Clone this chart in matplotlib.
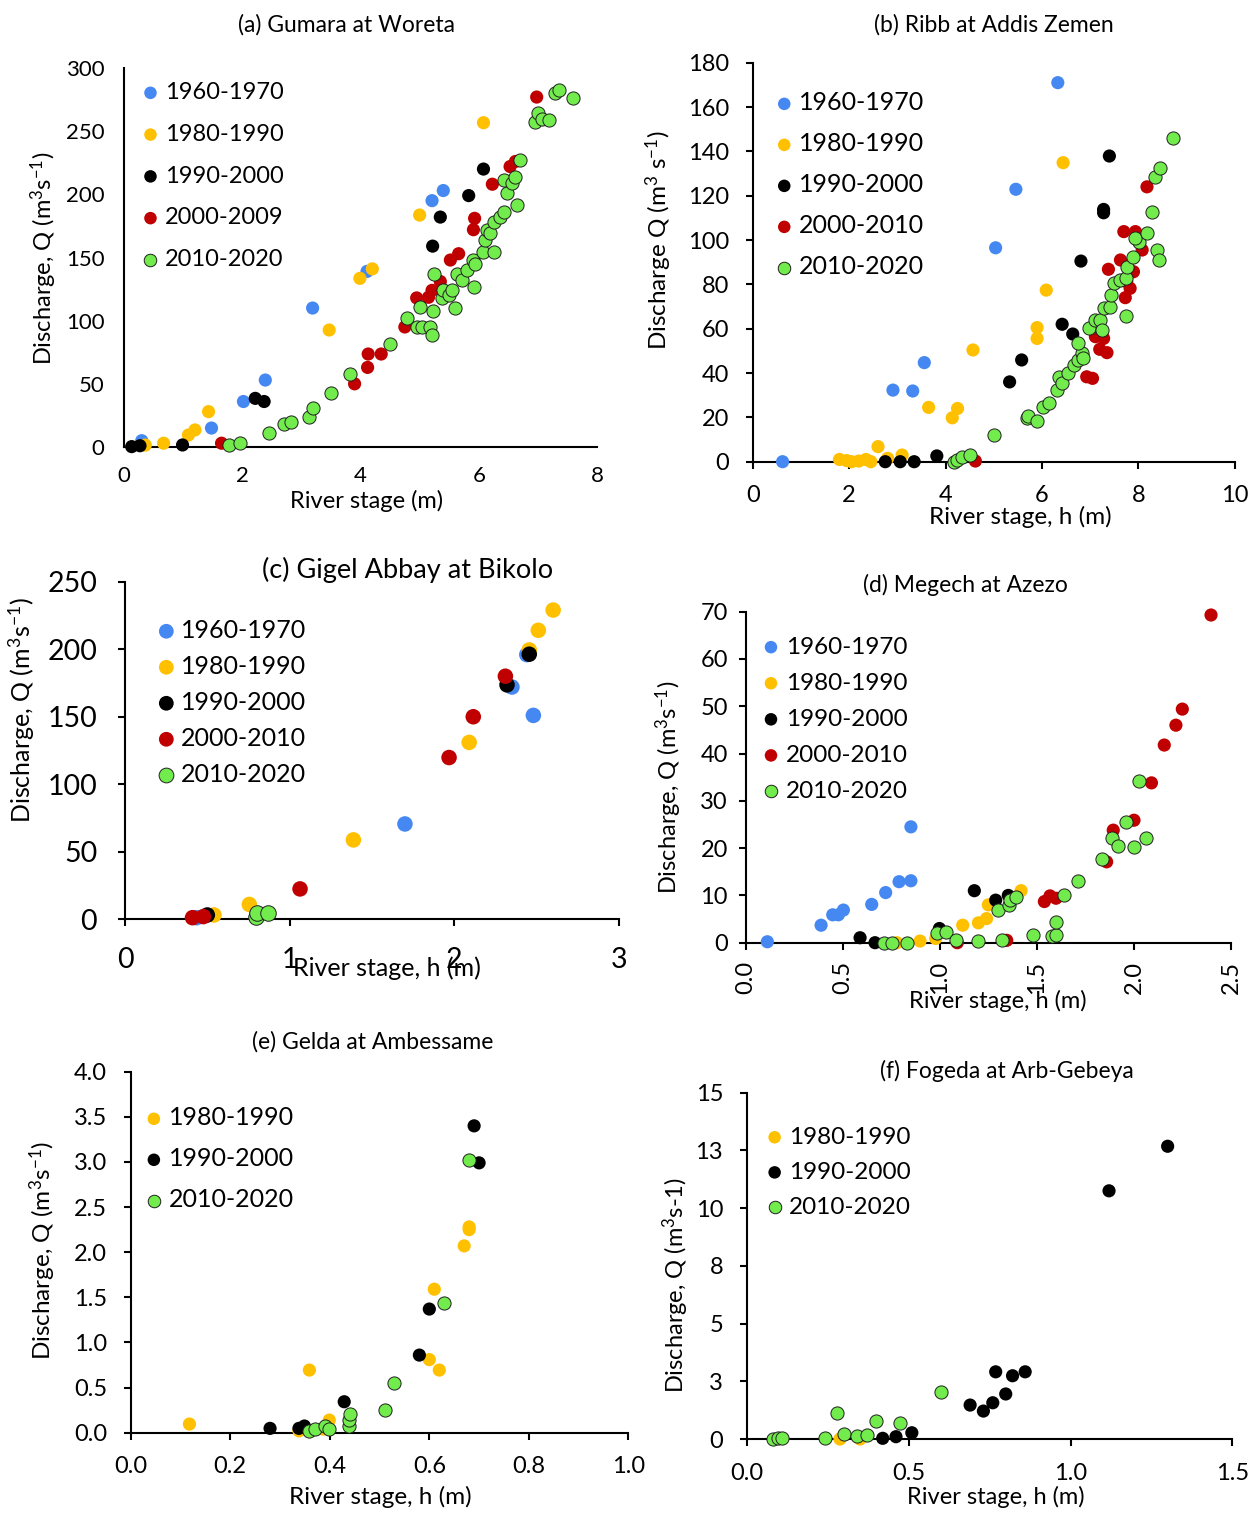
import matplotlib
matplotlib.use("Agg")
import matplotlib.pyplot as plt
from matplotlib.ticker import FixedLocator, FixedFormatter

plt.rcParams['font.family'] = ['Lato', 'DejaVu Sans']
plt.rcParams['mathtext.default'] = 'regular'

W, H = 1254, 1514

C_BLUE = '#4688F1'
C_YEL = '#FFC000'
C_BLK = '#000000'
C_RED = '#C00000'
C_GRN = '#72EB4C'

# ---------------- (a) Gumara at Woreta ----------------
a_blue_x = [0.30, 1.48, 2.02, 2.39, 3.19, 4.11, 5.21, 5.40]
a_blue_y = [5, 15, 36, 53, 110, 139, 195, 203]
a_yel_x = [0.36, 0.67, 1.09, 1.20, 1.43, 3.47, 3.99, 4.20, 5.00, 6.08]
a_yel_y = [1.5, 3, 9.5, 13.5, 28, 92.6, 133.5, 141, 183.6, 256.7]
a_blk_x = [0.13, 0.27, 0.99, 2.22, 2.37, 5.22, 5.35, 5.83, 6.08]
a_blk_y = [0.3, 1, 1.6, 38.5, 36, 159, 182, 199, 220]
a_red_x = [1.65, 3.90, 4.12, 4.13, 4.35, 4.75, 4.95, 5.15, 5.21, 5.35, 5.52,
           5.66, 5.91, 5.93, 6.23, 6.53, 6.62, 6.98]
a_red_y = [3, 50, 63, 73.6, 73.6, 95, 118, 118.5, 124, 131, 148,
           153, 172, 181, 208, 222, 226, 277]
a_grn_x = [1.78, 1.96, 2.46, 2.71, 2.82, 3.13, 3.20, 3.50, 3.82, 4.50, 4.78,
           4.95, 5.01, 5.04, 5.18, 5.21, 5.22, 5.25, 5.38, 5.39, 5.49, 5.54,
           5.60, 5.63, 5.71, 5.80, 5.91, 5.92, 5.94, 6.08, 6.11, 6.14, 6.19,
           6.25, 6.25, 6.36, 6.42, 6.47, 6.42, 6.56, 6.62, 6.64, 6.70, 6.95,
           7.01, 7.07, 7.18, 7.29, 7.35, 7.60]
a_grn_y = [1.6, 3, 11, 18, 20, 23.5, 31, 43, 58, 81.5, 102,
           95, 111, 95, 95, 88.6, 108, 137, 118, 124, 120, 124,
           110, 137, 132, 140, 148, 127, 145, 154, 164, 172, 169,
           178, 154, 182, 186, 201, 211, 209, 214, 191.5, 227, 257.5,
           264, 260, 259, 280, 282.6, 276]

# ---------------- (b) Ribb at Addis Zemen ----------------
b_blue_x = [0.62, 2.91, 3.32, 3.56, 5.04, 5.46, 6.33]
b_blue_y = [0, 32.3, 31.9, 44.7, 96.5, 122.9, 171]
b_yel_x = [1.80, 1.95, 2.05, 2.20, 2.35, 2.45, 2.60, 2.80, 3.10,
           3.65, 4.14, 4.25, 4.57, 5.90, 5.90, 6.09, 6.44]
b_yel_y = [1, 0.5, 0, 0.3, 1, 0, 6.8, 1.5, 3,
           24.5, 19.8, 24, 50.4, 60.5, 55.6, 77.4, 134.9]
b_blk_x = [2.75, 3.06, 3.35, 3.82, 5.33, 5.58, 6.42, 6.64, 6.81, 7.28, 7.28, 7.40]
b_blk_y = [0, 0, 0, 2.6, 36, 45.9, 62, 57.6, 90.5, 113.8, 112.3, 137.9]
b_red_x = [4.62, 6.93, 7.05, 7.11, 7.28, 7.20, 7.35, 7.38, 7.63, 7.76, 7.83,
           7.73, 7.90, 7.70, 7.94, 8.08, 8.18]
b_red_y = [0.3, 38.3, 37.6, 56.4, 55.6, 50.7, 49.2, 86.8, 91, 81.2, 78.2,
           74, 85.7, 103.8, 103.8, 95.5, 124]
b_grn_x = [4.17, 4.24, 4.34, 4.51, 5.01, 5.69, 5.72, 5.90, 6.03, 6.14, 6.31,
           6.35, 6.41, 6.55, 6.66, 6.74, 6.83, 6.86, 6.74, 6.97, 7.11, 7.21,
           7.25, 7.28, 7.42, 7.43, 7.49, 7.63, 7.75, 7.76, 7.74, 7.89, 8.01,
           7.94, 8.18, 8.28, 8.39, 8.42, 8.35, 8.46, 8.73]
b_grn_y = [0, 0.8, 2.3, 3, 12, 19.5, 20.6, 18.5, 24.8, 26.3, 32.3,
           38.3, 35.3, 39.8, 43.6, 45.9, 48.9, 46.6, 53.4, 60.2, 63.9, 63.9,
           59.4, 69.2, 69.9, 75.2, 80.8, 82, 82.7, 88, 65.7, 92.5, 99.2,
           100.8, 103.3, 112.8, 95.5, 91, 128.6, 132.3, 146.2]

# ---------------- (c) Gigel Abbay at Bikolo ----------------
c_blue_x = [0.435, 1.70, 2.35, 2.44, 2.48]
c_blue_y = [1.2, 70.6, 172, 196, 151]
c_yel_x = [0.54, 0.755, 1.387, 2.09, 2.455, 2.51, 2.60]
c_yel_y = [3.2, 11, 58.8, 131, 199.5, 214, 229]
c_blk_x = [0.50, 2.32, 2.455]
c_blk_y = [3.2, 173.6, 196.3]
c_red_x = [0.41, 0.476, 1.063, 1.968, 2.115, 2.31]
c_red_y = [1.2, 2, 22.5, 119.8, 150, 180]
c_grn_x = [0.794, 0.80, 0.866]
c_grn_y = [2, 5, 5]

# ---------------- (d) Megech at Azezo ----------------
d_blue_x = [0.11, 0.387, 0.447, 0.476, 0.502, 0.648, 0.72, 0.789, 0.85, 0.85]
d_blue_y = [0.2, 3.7, 5.9, 5.9, 6.9, 8.1, 10.6, 12.9, 13.1, 24.5]
d_yel_x = [0.777, 0.897, 0.978, 1.117, 1.198, 1.24, 1.249, 1.418]
d_yel_y = [0, 0.35, 0.9, 3.7, 4.2, 5.1, 8, 11]
d_blk_x = [0.588, 0.665, 0.997, 1.177, 1.287, 1.352]
d_blk_y = [1.05, 0, 3, 11, 9, 10]
d_red_x = [1.089, 1.344, 1.538, 1.567, 1.598, 1.859, 1.893, 2.0, 2.09,
           2.156, 2.216, 2.249, 2.397]
d_red_y = [0, 0.5, 8.7, 9.9, 9.4, 17.1, 23.8, 25.9, 33.8, 41.8, 46, 49.4, 69.3]
d_grn_x = [0.713, 0.751, 0.828, 0.986, 1.03, 1.082, 1.198, 1.318, 1.297,
           1.356, 1.361, 1.392, 1.478, 1.576, 1.598, 1.598, 1.639, 1.71,
           1.837, 1.888, 1.919, 1.957, 2.0, 2.027, 2.06]
d_grn_y = [0, 0, 0, 2, 2.2, 0.6, 0.4, 0.6, 6.9,
           8, 9, 9.6, 1.6, 1.4, 1.6, 4.3, 10.1, 13,
           17.8, 22.2, 20.5, 25.6, 20.3, 34.1, 22.1]

# ---------------- (e) Gelda at Ambessame ----------------
e_yel_x = [0.118, 0.359, 0.338, 0.399, 0.387, 0.60, 0.62, 0.61, 0.67, 0.68, 0.68]
e_yel_y = [0.096, 0.694, 0.02, 0.14, 0.04, 0.81, 0.694, 1.59, 2.07, 2.25, 2.28]
e_blk_x = [0.28, 0.338, 0.349, 0.429, 0.58, 0.60, 0.69, 0.70]
e_blk_y = [0.048, 0.048, 0.074, 0.343, 0.86, 1.37, 3.40, 2.99]
e_grn_x = [0.358, 0.37, 0.39, 0.399, 0.439, 0.439, 0.44, 0.51, 0.53, 0.63, 0.68]
e_grn_y = [0.02, 0.044, 0.074, 0.037, 0.074, 0.14, 0.21, 0.25, 0.554, 1.44, 3.02]

# ---------------- (f) Fogeda at Arb-Gebeya ----------------
f_yel_x = [0.288, 0.35]
f_yel_y = [0, 0]
f_blk_x = [0.42, 0.461, 0.51, 0.69, 0.731, 0.76, 0.80, 0.769, 0.821, 0.86, 1.119, 1.30]
f_blk_y = [0.03, 0.1, 0.27, 1.47, 1.21, 1.57, 1.95, 2.91, 2.74, 2.91, 10.75, 12.68]
f_grn_x = [0.082, 0.098, 0.108, 0.242, 0.28, 0.302, 0.34, 0.371, 0.40, 0.472, 0.60]
f_grn_y = [0, 0.06, 0.06, 0.03, 1.11, 0.22, 0.13, 0.17, 0.78, 0.71, 2.02]


def add_ax(fig, left, top, right, bottom):
    # axes placed by pixel box of the reference
    return fig.add_axes([left / W, 1 - bottom / H, (right - left) / W, (bottom - top) / H])


def style(ax, fs_tick, ticklen=5, pad=10):
    for s in ['top', 'right']:
        ax.spines[s].set_visible(False)
    for s in ['left', 'bottom']:
        ax.spines[s].set_linewidth(1.5)
    ax.tick_params(length=ticklen, width=1.5, direction='out', labelsize=fs_tick, pad=pad)


def pts(ax, series, s):
    for x, y, c, lab in series:
        if c == C_GRN:
            ax.scatter(x, y, s=s, c=c, edgecolors='#202020', linewidths=0.7, label=lab,
                       zorder=3, clip_on=False)
        else:
            ax.scatter(x, y, s=s, c=c, edgecolors='none', label=lab, zorder=3, clip_on=False)


def legend(ax, x, y, fs, spacing):
    ax.legend(loc='upper left', bbox_to_anchor=(x, y), frameon=False, fontsize=fs,
              handlelength=0.5, handletextpad=0.35, labelspacing=spacing,
              borderpad=0, borderaxespad=0, markerscale=0.95)


def labels(ax, xl, yl, xc, yc, fs):
    ax.set_xlabel(xl, fontsize=fs, va='center', ha='center')
    ax.set_ylabel(yl, fontsize=fs, va='center', ha='center')
    ax.xaxis.set_label_coords(*xc)
    ax.yaxis.set_label_coords(*yc)


fig = plt.figure(figsize=(W / 100, H / 100), dpi=100)

qlab = 'Discharge, Q (m$^3$s$^{-1}$)'
hlab = 'River stage, h (m)'
S = 90
TFS = 16.5

# (a)
ax = add_ax(fig, 124, 68, 597, 447)
pts(ax, [(a_blue_x, a_blue_y, C_BLUE, '1960-1970'), (a_yel_x, a_yel_y, C_YEL, '1980-1990'),
         (a_blk_x, a_blk_y, C_BLK, '1990-2000'), (a_red_x, a_red_y, C_RED, '2000-2009'),
         (a_grn_x, a_grn_y, C_GRN, '2010-2020')], S)
ax.set_xlim(0, 8)
ax.set_ylim(0, 300)
ax.set_xticks([0, 2, 4, 6, 8])
ax.set_yticks(range(0, 301, 50))
style(ax, 16, ticklen=0, pad=14)
legend(ax, 0.0435, 0.963, 17, 0.88)
labels(ax, 'River stage (m)', qlab, (0.512, -0.1425), (-0.17, 0.499), 17)
fig.text(347 / W, 1 - 25 / H, '(a) Gumara at Woreta', ha='center', va='center', fontsize=TFS)

# (b)
ax = add_ax(fig, 752.7, 62.7, 1234.7, 461.7)
pts(ax, [(b_blue_x, b_blue_y, C_BLUE, '1960-1970'), (b_yel_x, b_yel_y, C_YEL, '1980-1990'),
         (b_blk_x, b_blk_y, C_BLK, '1990-2000'), (b_red_x, b_red_y, C_RED, '2000-2010'),
         (b_grn_x, b_grn_y, C_GRN, '2010-2020')], S)
ax.set_xlim(0, 10)
ax.set_ylim(0, 180)
ax.set_xticks(range(0, 11, 2))
ax.set_yticks(range(0, 181, 20))
style(ax, 17, pad=12)
legend(ax, 0.0525, 0.928, 18, 0.72)
labels(ax, hlab, 'Discharge Q (m$^3$ s$^{-1}$)', (0.555, -0.1386), (-0.195, 0.556), 17.5)
fig.text(994 / W, 1 - 25 / H, '(b) Ribb at Addis Zemen', ha='center', va='center', fontsize=TFS)

# (c)
ax = add_ax(fig, 125, 581.7, 619, 919.3)
pts(ax, [(c_blue_x, c_blue_y, C_BLUE, '1960-1970'), (c_yel_x, c_yel_y, C_YEL, '1980-1990'),
         (c_blk_x, c_blk_y, C_BLK, '1990-2000'), (c_red_x, c_red_y, C_RED, '2000-2010'),
         (c_grn_x, c_grn_y, C_GRN, '2010-2020')], 125)
ax.set_xlim(0, 3)
ax.set_ylim(0, 250)
ax.set_xticks([0, 1, 2, 3])
ax.set_yticks(range(0, 251, 50))
style(ax, 20.5, pad=15)
legend(ax, 0.071, 0.89, 18, 0.52)
labels(ax, hlab, qlab, (0.530, -0.144), (-0.2085, 0.62), 18)
fig.text(408 / W, 1 - 570 / H, '(c) Gigel Abbay at Bikolo', ha='center', va='center', fontsize=19.5)

# (d)
ax = add_ax(fig, 746, 611.7, 1231, 942.7)
pts(ax, [(d_blue_x, d_blue_y, C_BLUE, '1960-1970'), (d_yel_x, d_yel_y, C_YEL, '1980-1990'),
         (d_blk_x, d_blk_y, C_BLK, '1990-2000'), (d_red_x, d_red_y, C_RED, '2000-2010'),
         (d_grn_x, d_grn_y, C_GRN, '2010-2020')], S)
ax.set_xlim(0, 2.5)
ax.set_ylim(0, 70)
ax.xaxis.set_major_locator(FixedLocator([0, 0.5, 1.0, 1.5, 2.0, 2.5]))
ax.xaxis.set_major_formatter(FixedFormatter(['0.0', '0.5', '1.0', '1.5', '2.0', '2.5']))
ax.set_yticks(range(0, 71, 10))
style(ax, 17, pad=8)
ax.tick_params(axis='x', labelrotation=90)
legend(ax, 0.039, 0.925, 17.5, 0.62)
labels(ax, hlab, qlab, (0.52, -0.176), (-0.16, 0.47), 17)
fig.text(965 / W, 1 - 585 / H, '(d) Megech at Azezo', ha='center', va='center', fontsize=TFS)

# (e)
ax = add_ax(fig, 130.7, 1071.7, 628.4, 1432.7)
pts(ax, [(e_yel_x, e_yel_y, C_YEL, '1980-1990'), (e_blk_x, e_blk_y, C_BLK, '1990-2000'),
         (e_grn_x, e_grn_y, C_GRN, '2010-2020')], S)
ax.set_xlim(0, 1.0)
ax.set_ylim(0, 4.0)
ax.xaxis.set_major_locator(FixedLocator([0, 0.2, 0.4, 0.6, 0.8, 1.0]))
ax.xaxis.set_major_formatter(FixedFormatter(['0.0', '0.2', '0.4', '0.6', '0.8', '1.0']))
yt = [0, 0.5, 1.0, 1.5, 2.0, 2.5, 3.0, 3.5, 4.0]
ax.yaxis.set_major_locator(FixedLocator(yt))
ax.yaxis.set_major_formatter(FixedFormatter(['%.1f' % v for v in yt]))
style(ax, 17, pad=12)
legend(ax, 0.034, 0.904, 18, 0.72)
labels(ax, hlab, qlab, (0.501, -0.178), (-0.177, 0.506), 17.5)
fig.text(373 / W, 1 - 1042 / H, '(e) Gelda at Ambessame', ha='center', va='center', fontsize=TFS)

# (f)
ax = add_ax(fig, 746.7, 1092.7, 1232.4, 1439)
pts(ax, [(f_yel_x, f_yel_y, C_YEL, '1980-1990'), (f_blk_x, f_blk_y, C_BLK, '1990-2000'),
         (f_grn_x, f_grn_y, C_GRN, '2010-2020')], S)
ax.set_xlim(0, 1.5)
ax.set_ylim(0, 15)
ax.xaxis.set_major_locator(FixedLocator([0, 0.5, 1.0, 1.5]))
ax.xaxis.set_major_formatter(FixedFormatter(['0.0', '0.5', '1.0', '1.5']))
ax.yaxis.set_major_locator(FixedLocator([0, 2.5, 5, 7.5, 10, 12.5, 15]))
ax.yaxis.set_major_formatter(FixedFormatter(['0', '3', '5', '8', '10', '13', '15']))
style(ax, 17, pad=12)
legend(ax, 0.045, 0.902, 17.5, 0.58)
labels(ax, hlab, 'Discharge, Q (m$^3$s-1)', (0.513, -0.1675), (-0.1456, 0.445), 17)
fig.text(1007 / W, 1 - 1071 / H, '(f) Fogeda at Arb-Gebeya', ha='center', va='center', fontsize=TFS)

fig.savefig('out.png', dpi=100)
